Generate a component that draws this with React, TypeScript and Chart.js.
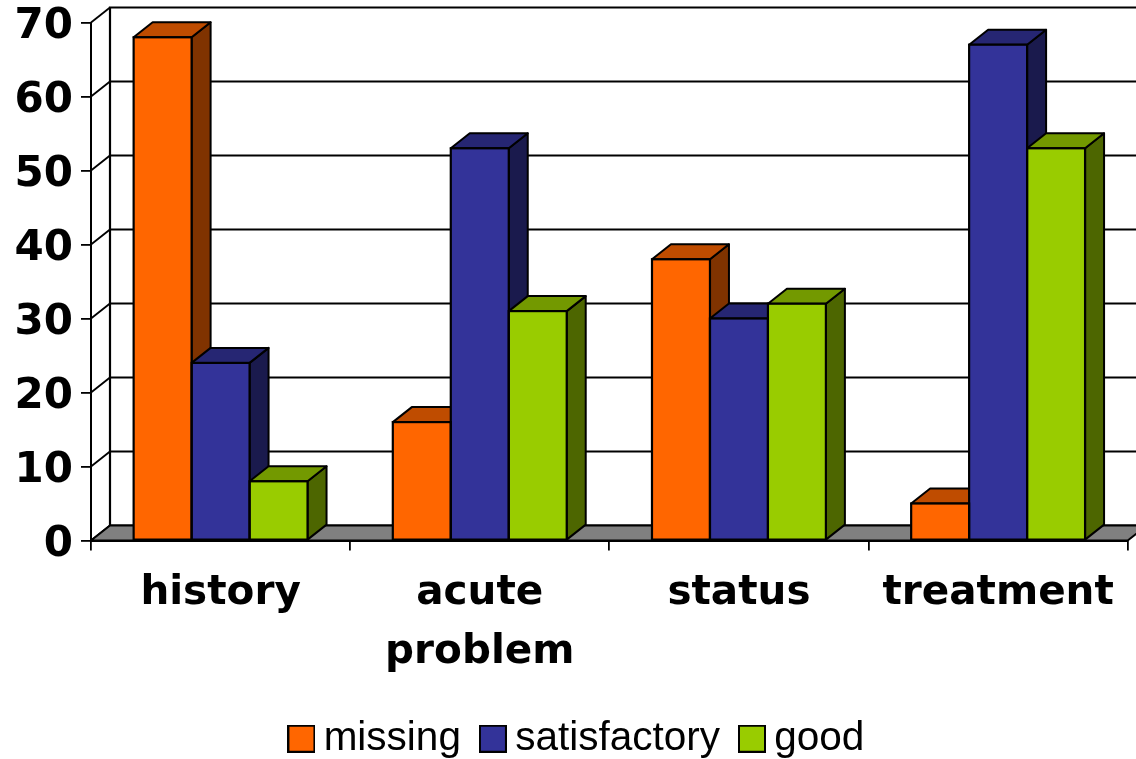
import React, { useEffect, useRef } from "react";
import { Chart, registerables } from "chart.js";

Chart.register(...registerables);

const categories = ["history", ["acute", "problem"], "status", "treatment"];
const missing = [68, 16, 38, 5];
const satisfactory = [24, 53, 30, 67];
const good = [8, 31, 32, 53];

const seriesNames = ["missing", "satisfactory", "good"];
const frontColors = ["#FF6600", "#333399", "#99CC00"];
const topColors = ["#BF4C00", "#262673", "#739900"];
const sideColors = ["#803300", "#1A1A4D", "#4D6600"];

const DEPTH_X = 19;
const DEPTH_Y = -15;
const EDGE = "#000000";

// Square swatch used as the legend's point style
function swatch(color: string) {
  const c = document.createElement("canvas");
  c.width = 28;
  c.height = 28;
  const g = c.getContext("2d")!;
  g.fillStyle = color;
  g.fillRect(1, 1, 26, 26);
  g.strokeStyle = EDGE;
  g.lineWidth = 2;
  g.strokeRect(1, 1, 26, 26);
  return c;
}

function polygon(ctx: CanvasRenderingContext2D, pts: number[][], fill: string | null, width = 2) {
  ctx.beginPath();
  pts.forEach(([x, y], i) => (i ? ctx.lineTo(x, y) : ctx.moveTo(x, y)));
  ctx.closePath();
  if (fill) {
    ctx.fillStyle = fill;
    ctx.fill();
  }
  ctx.lineJoin = "round";
  ctx.lineWidth = width;
  ctx.strokeStyle = EDGE;
  ctx.stroke();
}

// Back wall, floor and the side and top faces of each column
const perspective = {
  id: "perspective",
  afterLayout(chart: any) {
    // Legend row sits a little right of centre and close to the lower edge
    const legend = chart.legend;
    legend.left += 18;
    legend.right += 18;
    legend.top += 10;
    legend.bottom += 10;
  },
  beforeDatasetsDraw(chart: any) {
    const { ctx, chartArea, scales } = chart;
    const { left, right, top, bottom } = chartArea;
    ctx.save();
    ctx.lineWidth = 1.8;
    ctx.strokeStyle = EDGE;
    scales.y.ticks.forEach((t: any) => {
      const py = scales.y.getPixelForValue(t.value);
      ctx.beginPath();
      ctx.moveTo(left, py);
      ctx.lineTo(left + DEPTH_X, py + DEPTH_Y);
      if (t.value !== 70) ctx.lineTo(right + DEPTH_X, py + DEPTH_Y);
      ctx.stroke();
    });
    ctx.lineWidth = 2.2;
    ctx.beginPath();
    ctx.moveTo(left + DEPTH_X, bottom + DEPTH_Y);
    ctx.lineTo(left + DEPTH_X, top + DEPTH_Y);
    ctx.lineTo(right + DEPTH_X, top + DEPTH_Y);
    ctx.stroke();
    polygon(
      ctx,
      [
        [left, bottom],
        [left + DEPTH_X, bottom + DEPTH_Y],
        [right + DEPTH_X, bottom + DEPTH_Y],
        [right, bottom],
      ],
      "#808080"
    );
    seriesNames.forEach((_, ds) => {
      chart.getDatasetMeta(ds).data.forEach((bar: any) => {
        const { x, y, base, width } = bar.getProps(["x", "y", "base", "width"], true);
        const l = x - width / 2;
        const r = x + width / 2;
        polygon(
          ctx,
          [
            [r, y],
            [r + DEPTH_X, y + DEPTH_Y],
            [r + DEPTH_X, base + DEPTH_Y],
            [r, base],
          ],
          sideColors[ds]
        );
        polygon(
          ctx,
          [
            [l, y],
            [l + DEPTH_X, y + DEPTH_Y],
            [r + DEPTH_X, y + DEPTH_Y],
            [r, y],
          ],
          topColors[ds]
        );
      });
    });
    ctx.restore();
  },
  afterDatasetsDraw(chart: any) {
    const { ctx } = chart;
    ctx.save();
    ctx.lineWidth = 2.2;
    ctx.strokeStyle = EDGE;
    seriesNames.forEach((_, ds) => {
      chart.getDatasetMeta(ds).data.forEach((bar: any) => {
        const { x, y, base, width } = bar.getProps(["x", "y", "base", "width"], true);
        ctx.strokeRect(x - width / 2, y, width, base - y);
      });
    });
    ctx.restore();
  },
};

export default function App() {
  const ref = useRef<HTMLCanvasElement>(null);

  useEffect(() => {
    const chart = new Chart(ref.current!, {
      type: "bar",
      data: {
        labels: categories as any,
        datasets: [missing, satisfactory, good].map((data, i) => ({
          label: seriesNames[i],
          data,
          backgroundColor: frontColors[i],
          borderWidth: 0,
          barPercentage: 1,
          categoryPercentage: 0.671,
        })),
      },
      options: {
        responsive: false,
        animation: false,
        layout: { padding: { top: 22.5, right: 8.3, left: 0, bottom: 0 } },
        plugins: {
          tooltip: { enabled: false },
          legend: {
            position: "bottom",
            labels: {
              usePointStyle: true,
              pointStyleWidth: 4,
              boxHeight: 26,
              padding: 30,
              color: "#000000",
              font: { family: "'Liberation Sans', Arial, sans-serif", size: 40.5 },
              generateLabels: () =>
                seriesNames.map((text, i) => ({
                  text,
                  datasetIndex: i,
                  fillStyle: frontColors[i],
                  strokeStyle: EDGE,
                  lineWidth: 2,
                  hidden: false,
                  fontColor: "#000000",
                  pointStyle: swatch(frontColors[i]),
                })),
            },
          },
        },
        scales: {
          x: {
            afterFit: (s: any) => {
              s.height = s.chart.height - 540.5 - (s.chart.legend?.height ?? 0);
            },
            border: { display: true, color: EDGE, width: 2 },
            grid: { display: true, drawOnChartArea: false, drawTicks: true, tickLength: 10, color: EDGE, lineWidth: 1.8 },
            ticks: {
              color: "#000000",
              autoSkip: false,
              maxRotation: 0,
              minRotation: 0,
              padding: 14,
              font: { family: "'DejaVu Sans', Verdana, sans-serif", size: 40.5, weight: "bold", lineHeight: 1.45 },
            },
          },
          y: {
            min: 0,
            max: 70,
            afterFit: (s: any) => {
              s.width = 91;
              s.paddingTop = 0;
              s.paddingBottom = 0;
            },
            border: { display: true, color: EDGE, width: 2 },
            grid: { display: true, drawOnChartArea: false, drawTicks: true, tickLength: 10, color: EDGE, lineWidth: 1.8 },
            ticks: {
              stepSize: 10,
              color: "#000000",
              padding: 8,
              labelOffset: 5,
              font: { family: "'DejaVu Sans', Verdana, sans-serif", size: 42, weight: "bold", lineHeight: 1 },
            },
          },
        },
      } as any,
      plugins: [perspective],
    });
    return () => chart.destroy();
  }, []);

  return (
    <canvas
      ref={ref}
      width={1136}
      height={759}
      style={{ position: "fixed", left: 0, top: 0, width: 1136, height: 759, display: "block" }}
    />
  );
}
